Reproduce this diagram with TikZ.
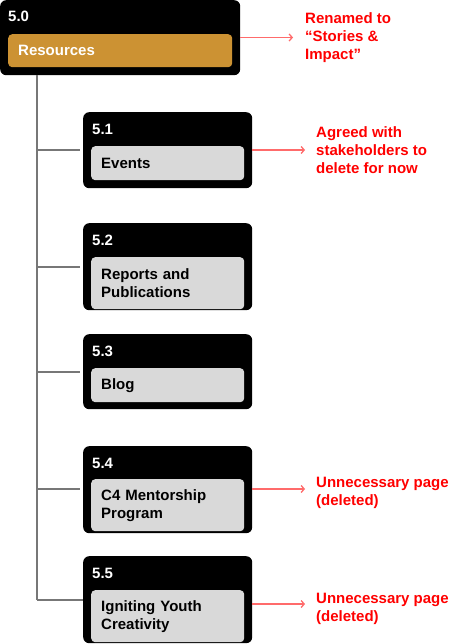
\documentclass[tikz,border=0pt]{standalone}
\usepackage{fontspec}
\setmainfont{Liberation Sans}
\usetikzlibrary{arrows.meta}
\definecolor{gold}{HTML}{CC9233}
\definecolor{innergray}{HTML}{D9D9D9}
\definecolor{trunkgray}{HTML}{777777}
\definecolor{arrowred}{HTML}{FF6B6B}
\definecolor{notered}{HTML}{FF0000}
\tikzset{
  outerbox/.style={fill=black, rounded corners=6pt, inner sep=0pt, anchor=north west},
  innerbox/.style={fill=innergray, rounded corners=4pt, inner xsep=10pt, inner ysep=0pt, anchor=north west,
    text width=133pt, align=left, font=\fontsize{15}{18}\selectfont\bfseries, text=black},
  numlabel/.style={anchor=west, inner sep=0pt, text=white, font=\fontsize{15}{18}\selectfont\bfseries},
  note/.style={anchor=west, inner sep=0pt, align=left, text=notered, font=\fontsize{15}{18}\selectfont\bfseries},
  trunk/.style={draw=trunkgray, line width=1.5pt},
  arr/.style={draw=arrowred, line width=1.3pt, -{Straight Barb[length=3pt,width=7pt]}},
}
\begin{document}
\begin{tikzpicture}[x=1pt,y=-1pt]
\useasboundingbox (0,0) rectangle (475,644);
% 5.0
\node[outerbox, minimum width=240pt, minimum height=75pt] (b0) at (0,0) {};
\node[innerbox, fill=gold, text=white, minimum height=33pt, text width=204pt] (i0) at (8,34) {Resources};
\node[numlabel] (n0) at (8,16) {5.0};
% 5.1
\node[outerbox, minimum width=169pt, minimum height=76pt] (b1) at (83,112) {};
\node[innerbox, minimum height=34pt] (i1) at (91,146) {Events};
\node[numlabel] (n1) at (92,129) {5.1};
% 5.2
\node[outerbox, minimum width=169pt, minimum height=87pt] (b2) at (83,223) {};
\node[innerbox, minimum height=52pt] (i2) at (91,257) {Reports and\\Publications};
\node[numlabel] (n2) at (92,240) {5.2};
% 5.3
\node[outerbox, minimum width=169pt, minimum height=75pt] (b3) at (83,334) {};
\node[innerbox, minimum height=34pt] (i3) at (91,368) {Blog};
\node[numlabel] (n3) at (92,351) {5.3};
% 5.4
\node[outerbox, minimum width=169pt, minimum height=87pt] (b4) at (83,446) {};
\node[innerbox, minimum height=52pt] (i4) at (91,479) {C4 Mentorship\\Program};
\node[numlabel] (n4) at (92,463) {5.4};
% 5.5
\node[outerbox, minimum width=169pt, minimum height=87pt] (b5) at (83,556) {};
\node[innerbox, minimum height=52pt] (i5) at (91,590) {Igniting Youth\\Creativity};
\node[numlabel] (n5) at (92,573) {5.5};
% trunk
\coordinate (t0) at (37,75);
\coordinate (t1) at (37,150);
\coordinate (t2) at (37,267);
\coordinate (t3) at (37,372);
\coordinate (t4) at (37,489);
\coordinate (t5) at (37,600);
\draw[trunk] (t0) -- (t5);
\draw[trunk, shorten >=3pt] (t1) -- (b1.west |- t1);
\draw[trunk, shorten >=3pt] (t2) -- (b2.west |- t2);
\draw[trunk, shorten >=3pt] (t3) -- (b3.west |- t3);
\draw[trunk, shorten >=3pt] (t4) -- (b4.west |- t4);
\draw[trunk] (t5) -- (b5.west |- t5);
% annotations
\coordinate (a0) at (293,37.5);
\coordinate (a1) at (305,150);
\coordinate (a4) at (305,489);
\coordinate (a5) at (305,604);
\draw[arr] (b0.east |- a0) -- (a0);
\draw[arr] (b1.east |- a1) -- (a1);
\draw[arr] (b4.east |- a4) -- (a4);
\draw[arr] (b5.east |- a5) -- (a5);
\node[note] (m0) at (305,38) {Renamed to\\“Stories \&\\Impact”};
\node[note] (m1) at (316,150) {Agreed with\\stakeholders to\\delete for now};
\node[note] (m4) at (316,493) {Unnecessary page\\(deleted)};
\node[note] (m5) at (316,609) {Unnecessary page\\(deleted)};
\end{tikzpicture}
\end{document}
